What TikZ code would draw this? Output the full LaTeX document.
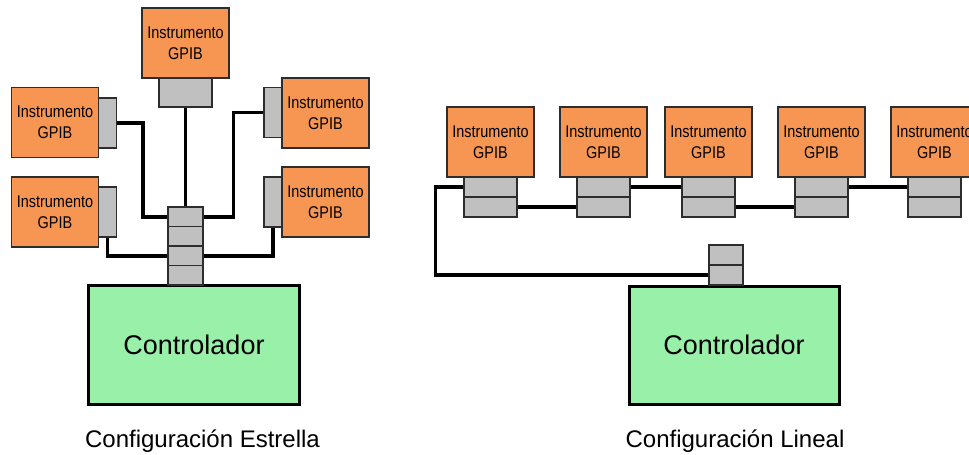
\documentclass[tikz,border=0pt]{standalone}
\usepackage{fontspec}
\setmainfont{Liberation Sans}
\newfontfamily\instfont[FakeStretch=0.85]{Liberation Sans}
\definecolor{instorange}{RGB}{247,150,82}
\definecolor{ctrlgreen}{RGB}{153,240,168}
\definecolor{portgray}{RGB}{192,192,192}
\definecolor{edgegray}{RGB}{45,45,45}
\begin{document}
\begin{tikzpicture}[x=1pt,y=-1pt,
  instr/.style={draw=edgegray, line width=1.2pt, fill=instorange,
    minimum width=87pt, minimum height=70pt, inner sep=0pt, align=center,
    font=\instfont\fontsize{17}{21}\selectfont},
  port/.style={draw=edgegray, line width=1.2pt, fill=portgray, inner sep=0pt},
  sideport/.style={port, minimum width=18pt, minimum height=50pt},
  topport/.style={port, minimum width=53pt, minimum height=29pt},
  cell/.style={port, minimum width=53pt, minimum height=20pt},
  stackcell/.style={port, minimum width=35pt, minimum height=19.5pt},
  ctrl/.style={draw=black, line width=3pt, fill=ctrlgreen, inner sep=0pt,
    minimum width=211pt, minimum height=119pt, font=\fontsize{27}{32}\selectfont},
  caption/.style={anchor=base, font=\fontsize{24}{28}\selectfont},
  wire/.style={line width=3.5pt}]
\clip (0,0) rectangle (969,455);
\fill[white] (0,0) rectangle (969,455);

% ---------- star configuration ----------
\node[ctrl] (sc) at (194,345) {Controlador};
\node[stackcell] (s1) at (185.5,216.75) {};
\node[stackcell] (s2) at (185.5,236.25) {};
\node[stackcell] (s3) at (185.5,255.75) {};
\node[stackcell] (s4) at (185.5,275.25) {};

\node[instr] (it) at (185.5,43) {Instrumento\\GPIB};
\node[topport] (tg) at (185.5,92.5) {};
\node[instr] (ilu) at (55,122.5) {Instrumento\\GPIB};
\node[sideport] (lug) at (107.5,123) {};
\node[instr] (ill) at (55,212) {Instrumento\\GPIB};
\node[sideport] (llg) at (107.5,212) {};
\node[instr] (iru) at (325.5,113) {Instrumento\\GPIB};
\node[sideport] (rug) at (273,112.5) {};
\node[instr] (irl) at (325.5,202) {Instrumento\\GPIB};
\node[sideport] (rlg) at (273,202) {};

\draw[wire] (tg.south) -- (s1.north);
\draw[wire] (lug.east) -- ++(26,0) |- (s1.west);
\draw[wire] (s1.east) -- ++(30,0) |- (rug.west);
\draw[wire] (llg.south) |- (s3.west);
\draw[wire] (rlg.south) |- (s3.east);

\node[caption] (capS) at (202.5,447) {Configuración Estrella};

% ---------- linear configuration ----------
\node[ctrl, minimum width=210pt, minimum height=118pt] (lc) at (734,345) {Controlador};
\node[port, minimum width=34pt, minimum height=20pt] (ca) at (726,255) {};
\node[port, minimum width=34pt, minimum height=20pt] (cb) at (726,275) {};

\foreach \n/\l in {1/447,2/560,3/665,4/778,5/891}{
  \node[instr] (i\n) at (\l+43.5,142) {Instrumento\\GPIB};
  \node[cell] (a\n) at (\l+43.5,187) {};
  \node[cell] (b\n) at (\l+43.5,207) {};
}

\draw[wire] (a1.west) -- ++(-28,0) |- (cb.west);
\draw[wire] (b1.east) -- (b2.west);
\draw[wire] (a2.east) -- (a3.west);
\draw[wire] (b3.east) -- (b4.west);
\draw[wire] (a4.east) -- (a5.west);

\node[caption] (capL) at (735,447) {Configuración Lineal};
\end{tikzpicture}
\end{document}
